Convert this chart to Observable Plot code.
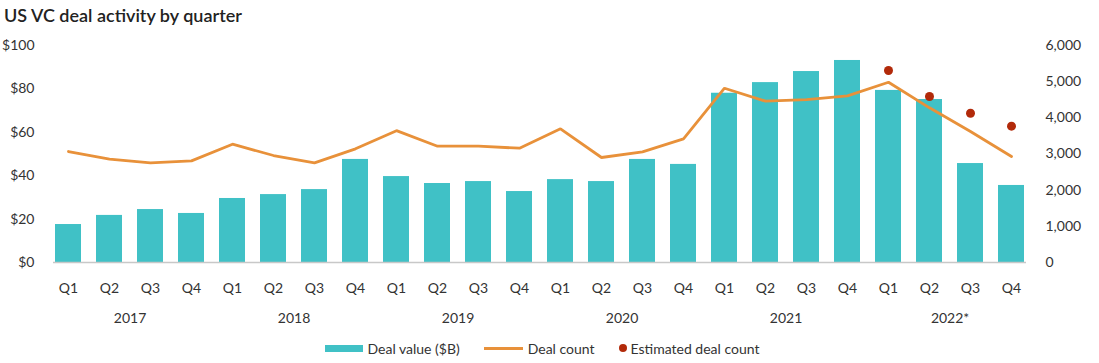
<!DOCTYPE html>
<html>
<head>
<meta charset="utf-8">
<script src="https://cdn.jsdelivr.net/npm/d3@7"></script>
<script src="https://cdn.jsdelivr.net/npm/@observablehq/plot@0.6"></script>
<style>
  body { margin: 0; background: #fff; font-family: Lato, "Open Sans", sans-serif; color: #333; }
  #title { height: 30px; box-sizing: border-box; padding: 4px 0 0 4px; font-size: 18px; font-weight: 600; color: #222; line-height: 22px; }
  #legend { display: flex; justify-content: center; align-items: center; font-size: 14px; color: #333; margin-left: -14px; height: 30px; }
  .item { display: flex; align-items: center; margin: 0 12px; }
  .sw-bar { width: 38px; height: 7px; background: #40C1C6; margin-right: 4px; }
  .sw-line { width: 39px; height: 3px; background: #E8913A; margin-right: 5px; }
  .sw-dot { width: 8px; height: 8px; border-radius: 50%; background: #B22A0A; margin-right: 4px; }
</style>
</head>
<body>
<div id="title">US VC deal activity by quarter</div>
<div id="chart"></div>
<div id="legend">
  <div class="item"><div class="sw-bar"></div>Deal value ($B)</div>
  <div class="item"><div class="sw-line"></div>Deal count</div>
  <div class="item"><div class="sw-dot"></div>Estimated deal count</div>
</div>
<script>
const years = ["2017", "2018", "2019", "2020", "2021", "2022*"];
const quarters = ["Q1", "Q2", "Q3", "Q4"];
const dealValue = [17.5, 21.7, 24.4, 22.6, 29.5, 31.3, 33.6, 47.5, 39.6, 36.4, 37.3, 32.7, 38.2, 37.3, 47.5, 45.2, 78.0, 82.9, 88.0, 93.1, 79.3, 75.1, 45.6, 35.5];
const dealCount = [3069, 2857, 2756, 2811, 3271, 2958, 2756, 3143, 3645, 3216, 3216, 3160, 3696, 2903, 3060, 3420, 4819, 4460, 4506, 4609, 4985, 4277, 3622, 2930];
const estimatedCount = [null, null, null, null, null, null, null, null, null, null, null, null, null, null, null, null, null, null, null, null, 5308, 4589, 4128, 3769];
const leftTicks = [0, 20, 40, 60, 80, 100];
const rightTicks = [0, 1000, 2000, 3000, 4000, 5000, 6000];

const countMax = 6000, valueMax = 100;
const toY = c => c / countMax * valueMax;

const data = [];
years.forEach((yr, yi) => quarters.forEach((q, qi) => {
  const i = yi * 4 + qi;
  data.push({key: yr + "-" + q, year: yr, q, value: dealValue[i], count: dealCount[i], est: estimatedCount[i]});
}));
const yearLabels = years.map(yr => ({key: yr + "-Q2", year: yr}));

const chart = Plot.plot({
  width: 1099,
  height: 303,
  marginLeft: 53,
  marginRight: 73,
  marginTop: 15,
  marginBottom: 71,
  style: {fontFamily: "Lato, 'Open Sans', sans-serif", fontSize: "14px", color: "#333", background: "#fff"},
  x: {domain: data.map(d => d.key), paddingInner: 0.37, paddingOuter: 0, label: null},
  y: {domain: [0, valueMax], label: null},
  marks: [
    Plot.barY(data, {x: "key", y: "value", fill: "#40C1C6"}),
    Plot.ruleY([0], {stroke: "#c8c8c8", strokeWidth: 1.5}),
    Plot.line(data, {x: "key", y: d => toY(d.count), stroke: "#E8913A", strokeWidth: 2.8, strokeLinejoin: "miter"}),
    Plot.dot(data.filter(d => d.est != null), {x: "key", y: d => toY(d.est), r: 4.5, fill: "#B22A0A"}),
    Plot.axisX({tickSize: 0, tickPadding: 21, tickFormat: k => k.split("-")[1], fontSize: 14, label: null}),
    Plot.text(yearLabels, {x: "key", text: "year", frameAnchor: "bottom", dy: 56, dx: 20.6, lineAnchor: "middle", fontSize: 14, fill: "#333"}),
    Plot.axisY({anchor: "left", ticks: leftTicks, tickSize: 0, tickPadding: 19, tickFormat: d => "$" + d, label: null, fontSize: 14}),
    Plot.axisY({anchor: "right", ticks: rightTicks.map(toY), tickSize: 0, tickPadding: 19, tickFormat: d => d3.format(",")(Math.round(d * countMax / valueMax)), label: null, fontSize: 14})
  ]
});
document.getElementById("chart").appendChild(chart);
</script>
</body>
</html>
